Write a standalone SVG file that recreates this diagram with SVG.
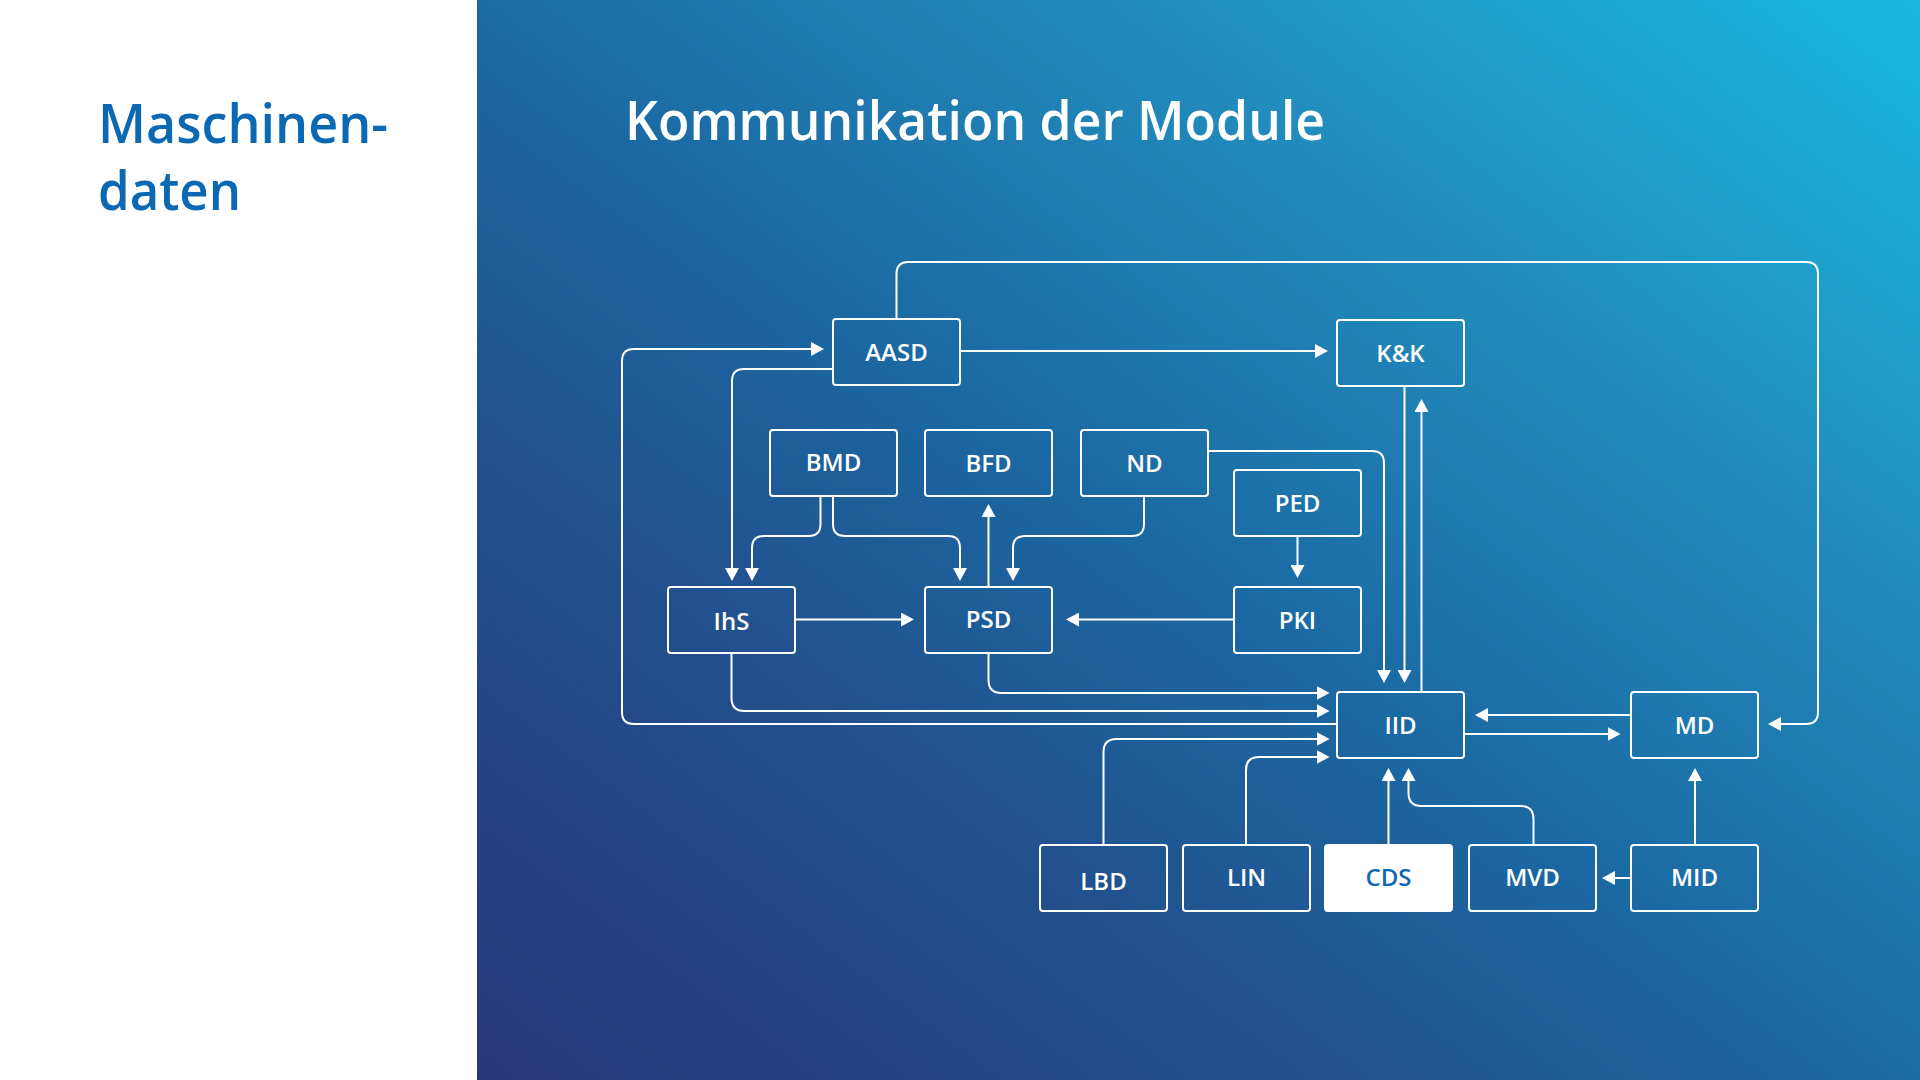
<svg xmlns="http://www.w3.org/2000/svg" width="1920" height="1080" viewBox="0 0 1920 1080">
  <defs>
    <linearGradient id="bg" gradientUnits="userSpaceOnUse" x1="477" y1="1080" x2="1513" y2="-304">
      <stop offset="0" stop-color="#28377a"/>
      <stop offset="0.29" stop-color="#22508d"/>
      <stop offset="0.48" stop-color="#1b68a2"/>
      <stop offset="0.75" stop-color="#2290c0"/>
      <stop offset="0.96" stop-color="#19b3dc"/>
      <stop offset="1" stop-color="#1ab6de"/>
    </linearGradient>
    <marker id="ah" viewBox="0 0 13 14" refX="10" refY="7" markerWidth="13" markerHeight="14" markerUnits="userSpaceOnUse" orient="auto">
      <path d="M0,0 L13,7 L0,14 z" fill="#ffffff"/>
    </marker>
    <style>
      .box { fill: none; stroke: #ffffff; stroke-width: 2; }
      .box-hl { fill: #ffffff; stroke: #ffffff; stroke-width: 2; }
      .lbl { font-family: "Open Sans", "Noto Sans", "Liberation Sans", sans-serif; font-weight: 600; font-size: 24px; fill: #ffffff; text-anchor: middle; }
      .lbl-hl { fill: #1167b1; }
      .conn path { fill: none; stroke: #ffffff; stroke-width: 2; }
      .arr { marker-end: url(#ah); }
      .title { font-family: "Open Sans", "Noto Sans", "Liberation Sans", sans-serif; font-weight: 600; font-size: 55px; }
    </style>
  </defs>

  <rect x="0" y="0" width="1920" height="1080" fill="#ffffff"/>
  <rect x="477" y="0" width="1443" height="1080" fill="url(#bg)"/>

  <g id="side-title">
    <text class="title" fill="#0b69b4"><tspan x="98" y="143" textLength="290" lengthAdjust="spacingAndGlyphs">Maschinen-</tspan><tspan x="98" y="210" textLength="143" lengthAdjust="spacingAndGlyphs">daten</tspan></text>
  </g>
  <g id="main-title">
    <text class="title" x="625" y="140" fill="#ffffff" textLength="700" lengthAdjust="spacingAndGlyphs">Kommunikation der Module</text>
  </g>

  <g id="connectors" class="conn">
    <path class="arr" d="M896.5 319 V274 Q896.5 262 908.5 262 H1806 Q1818 262 1818 274 V712 Q1818 724 1806 724 H1771"/>
    <path class="arr" d="M960 351 H1325"/>
    <path class="arr" d="M1337 724 H634 Q622 724 622 712 V361 Q622 349 634 349 H821"/>
    <path class="arr" d="M833 369 H744 Q732 369 732 381 V578"/>
    <path class="arr" d="M820.5 497 V524 Q820.5 536 808.5 536 H764 Q752 536 752 548 V578"/>
    <path class="arr" d="M833 497 V524 Q833 536 845 536 H948 Q960 536 960 548 V578"/>
    <path class="arr" d="M988.5 587 V507"/>
    <path class="arr" d="M1144 497 V524 Q1144 536 1132 536 H1025 Q1013 536 1013 548 V578"/>
    <path class="arr" d="M1208 451 H1372 Q1384 451 1384 463 V680"/>
    <path class="arr" d="M1404.5 386 V680"/>
    <path class="arr" d="M1421.5 692 V402"/>
    <path class="arr" d="M1297.5 537 V575"/>
    <path class="arr" d="M1234 619.5 H1069"/>
    <path class="arr" d="M795 619.5 H911"/>
    <path class="arr" d="M988.5 653 V680 Q988.5 693 1001.5 693 H1326.5"/>
    <path class="arr" d="M731.5 653 V698 Q731.5 711 744.5 711 H1326.5"/>
    <path class="arr" d="M1103.5 845 V752 Q1103.5 739 1116.5 739 H1326.5"/>
    <path class="arr" d="M1246 845 V770 Q1246 757 1259 757 H1326.5"/>
    <path class="arr" d="M1388.5 845 V771"/>
    <path class="arr" d="M1533.5 845 V819 Q1533.5 806 1520.5 806 H1421.5 Q1408.5 806 1408.5 793 V771"/>
    <path class="arr" d="M1631 715 H1478"/>
    <path class="arr" d="M1465 734 H1617.5"/>
    <path class="arr" d="M1695 845 V771"/>
    <path class="arr" d="M1631 878 H1605"/>
  </g>

  <g id="node-AASD"><rect class="box" x="833" y="319" width="127" height="66" rx="3"/><text class="lbl" x="896.5" y="361">AASD</text></g>
  <g id="node-KK"><rect class="box" x="1337" y="320" width="127" height="66" rx="3"/><text class="lbl" x="1400.5" y="362">K&amp;K</text></g>
  <g id="node-BMD"><rect class="box" x="770" y="430" width="127" height="66" rx="3"/><text class="lbl" x="833.5" y="471">BMD</text></g>
  <g id="node-BFD"><rect class="box" x="925" y="430" width="127" height="66" rx="3"/><text class="lbl" x="988.5" y="472">BFD</text></g>
  <g id="node-ND"><rect class="box" x="1081" y="430" width="127" height="66" rx="3"/><text class="lbl" x="1144.5" y="472">ND</text></g>
  <g id="node-PED"><rect class="box" x="1234" y="470" width="127" height="66" rx="3"/><text class="lbl" x="1297.5" y="512">PED</text></g>
  <g id="node-IhS"><rect class="box" x="668" y="587" width="127" height="66" rx="3"/><text class="lbl" x="731.5" y="630">IhS</text></g>
  <g id="node-PSD"><rect class="box" x="925" y="587" width="127" height="66" rx="3"/><text class="lbl" x="988.5" y="628">PSD</text></g>
  <g id="node-PKI"><rect class="box" x="1234" y="587" width="127" height="66" rx="3"/><text class="lbl" x="1297.5" y="629">PKI</text></g>
  <g id="node-IID"><rect class="box" x="1337" y="692" width="127" height="66" rx="3"/><text class="lbl" x="1400.5" y="734">IID</text></g>
  <g id="node-MD"><rect class="box" x="1631" y="692" width="127" height="66" rx="3"/><text class="lbl" x="1694.5" y="734">MD</text></g>
  <g id="node-LBD"><rect class="box" x="1040" y="845" width="127" height="66" rx="3"/><text class="lbl" x="1103.5" y="890">LBD</text></g>
  <g id="node-LIN"><rect class="box" x="1183" y="845" width="127" height="66" rx="3"/><text class="lbl" x="1246.5" y="886">LIN</text></g>
  <g id="node-CDS"><rect class="box-hl" x="1325" y="845" width="127" height="66" rx="3"/><text class="lbl lbl-hl" x="1388.5" y="886">CDS</text></g>
  <g id="node-MVD"><rect class="box" x="1469" y="845" width="127" height="66" rx="3"/><text class="lbl" x="1532.5" y="886">MVD</text></g>
  <g id="node-MID"><rect class="box" x="1631" y="845" width="127" height="66" rx="3"/><text class="lbl" x="1694.5" y="886">MID</text></g>
</svg>
